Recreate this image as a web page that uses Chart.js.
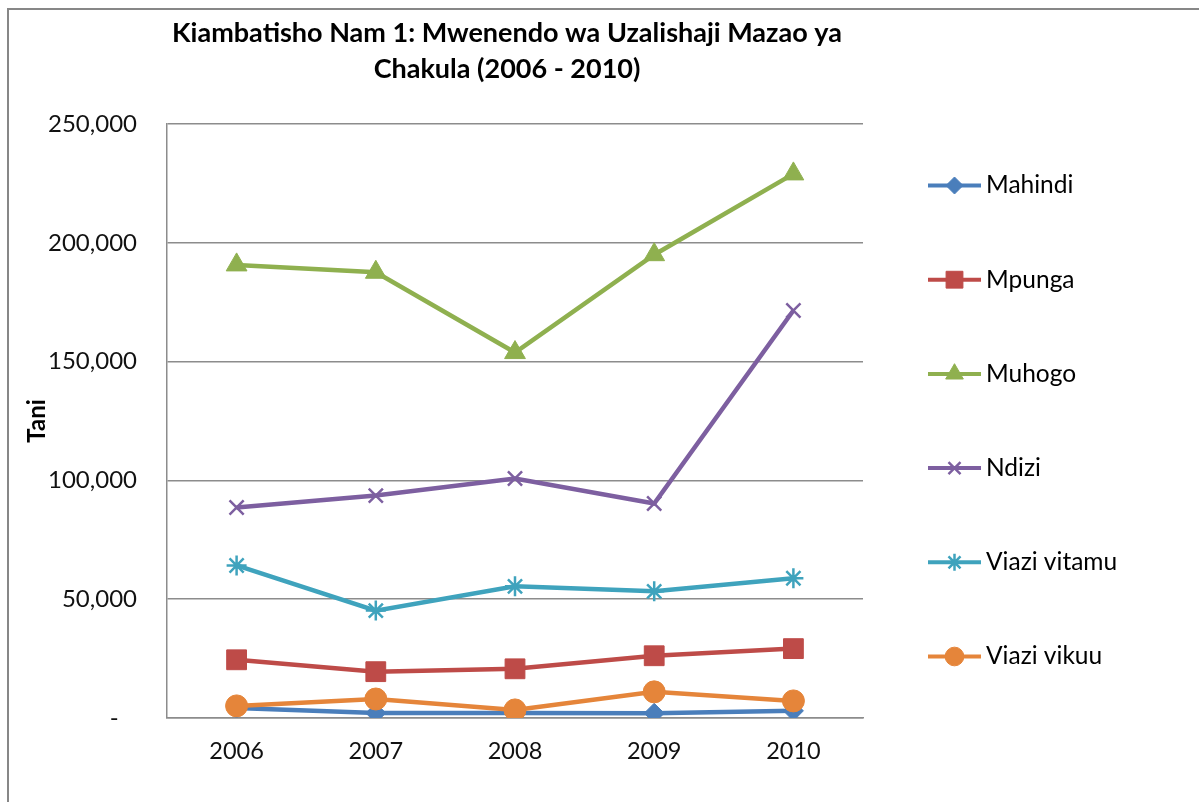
<!DOCTYPE html>
<html>
<head>
<meta charset="utf-8">
<script src="https://cdn.jsdelivr.net/npm/chart.js@4.4.1/dist/chart.umd.min.js"></script>
<style>
    body { margin: 0; background: #fff; overflow: hidden; }
    #fremu { position: absolute; left: 7px; top: 8px; width: 1300px; height: 900px; border: 2px solid #878787; }
    #grafu { position: absolute; left: 0; top: 0; }
</style>
</head>
<body>
<div id="fremu"></div>
<canvas id="grafu" width="1199" height="802"></canvas>
<script>
// Miaka (categories)
const miaka = ['2006', '2007', '2008', '2009', '2010'];

// Uzalishaji kwa tani
const mahindi = [4200, 2100, 2100, 2000, 3000];
const mpunga = [24500, 19500, 20700, 26200, 29200];
const muhogo = [190700, 187600, 153800, 195000, 229000];
const ndizi = [88600, 93600, 100800, 90300, 171500];
const viaziVitamu = [64200, 45200, 55400, 53300, 58800];
const viaziVikuu = [5100, 8000, 3400, 11000, 7200];

const kichwa = ['Kiambatisho Nam 1: Mwenendo wa Uzalishaji Mazao ya', 'Chakula (2006 - 2010)'];
const fonti = 'Lato';

function mstari(jina, data, rangi, umbo, ukubwa, mpangilio) {
    return {
        label: jina,
        data: data,
        borderColor: rangi,
        backgroundColor: rangi,
        borderWidth: 4.5,
        pointStyle: umbo,
        pointRadius: ukubwa,
        pointHoverRadius: ukubwa,
        pointBorderWidth: (umbo === 'crossRot' || umbo === 'star') ? 2.5 : 1,
        tension: 0,
        order: mpangilio
    };
}

// Kichwa na ufunguo (legend) vinachorwa hapa
const pambo = {
    id: 'pambo',
    afterDraw(chart) {
        const ctx = chart.ctx;
        const eneo = chart.chartArea;
        ctx.save();
        ctx.fillStyle = '#000';
        ctx.textAlign = 'center';
        ctx.textBaseline = 'middle';
        ctx.font = 'bold 27px ' + fonti;
        const katiX = (eneo.left + eneo.right) / 2 - 8;
        kichwa.forEach((mstariMaandishi, i) => {
            ctx.fillText(mstariMaandishi, katiX, 33 + i * 36);
        });

        // ufunguo
        const nafasi = 94.2;
        const seti = chart.data.datasets;
        const juu = (eneo.top + eneo.bottom) / 2 - nafasi * (seti.length - 1) / 2;
        const x0 = eneo.right + 65;
        const x1 = eneo.right + 118;
        seti.forEach((ds, i) => {
            const y = juu + i * nafasi;
            ctx.strokeStyle = ds.borderColor;
            ctx.lineWidth = 4;
            ctx.beginPath();
            ctx.moveTo(x0, y);
            ctx.lineTo(x1, y);
            ctx.stroke();
            ctx.fillStyle = ds.backgroundColor;
            ctx.lineWidth = ds.pointBorderWidth;
            Chart.helpers.drawPoint(ctx, {
                pointStyle: ds.pointStyle,
                radius: ds.pointRadius * 0.85,
                rotation: 0,
                borderWidth: ds.pointBorderWidth
            }, (x0 + x1) / 2, y);
            ctx.fillStyle = '#000';
            ctx.textAlign = 'left';
            ctx.font = '24.5px ' + fonti;
            ctx.fillText(ds.label, x1 + 5, y);
        });
        ctx.restore();
    }
};

const ctx = document.getElementById('grafu').getContext('2d');
const grafu = new Chart(ctx, {
    type: 'line',
    data: {
        labels: miaka,
        datasets: [
            mstari('Mahindi', mahindi, '#4a7ebb', 'rectRot', 10, 6),
            mstari('Mpunga', mpunga, '#be4b48', 'rect', 14, 5),
            mstari('Muhogo', muhogo, '#8fb04f', 'triangle', 12, 4),
            mstari('Ndizi', ndizi, '#7d5fa0', 'crossRot', 10, 3),
            mstari('Viazi vitamu', viaziVitamu, '#3fa3bd', 'star', 10, 2),
            mstari('Viazi vikuu', viaziVikuu, '#e5853a', 'circle', 11, 1)
        ]
    },
    options: {
        responsive: false,
        animation: false,
        layout: { padding: { left: 8, top: 124, right: 336, bottom: 0 } },
        plugins: {
            legend: { display: false },
            title: { display: false },
            tooltip: { enabled: false }
        },
        scales: {
            x: {
                offset: true,
                grid: { display: false, drawTicks: false },
                border: { display: true, color: '#8c8c8c', width: 1.5 },
                ticks: { color: '#111', padding: 19, font: { family: fonti, size: 23.5 } },
                afterFit(scale) { scale.height = 84; }
            },
            y: {
                min: 0,
                max: 250000,
                grid: { color: '#8c8c8c', lineWidth: 1.5, drawTicks: false },
                border: { display: true, color: '#8c8c8c', width: 1.5 },
                ticks: {
                    stepSize: 50000,
                    color: '#111',
                    padding: 30,
                    font: { family: fonti, size: 24 },
                    callback: (v) => v === 0 ? '-   ' : v.toLocaleString('en-US')
                },
                title: {
                    display: true,
                    text: 'Tani',
                    color: '#000',
                    font: { family: fonti, size: 24, weight: 'bold' },
                    padding: { top: 15, bottom: 0 }
                },
                afterFit(scale) { scale.width = 159; }
            }
        }
    },
    plugins: [pambo]
});
</script>
</body>
</html>
